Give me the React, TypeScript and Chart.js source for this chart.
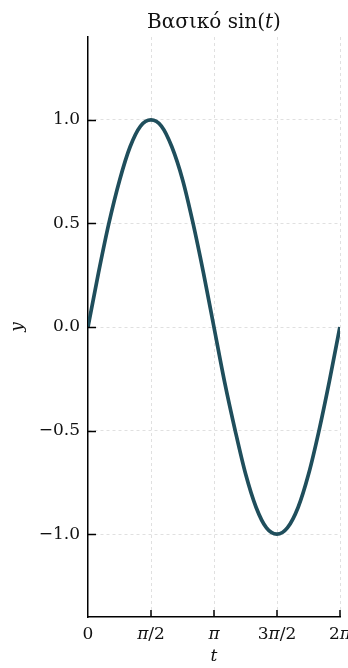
import React, { useEffect, useRef } from 'react';
import { Chart, registerables } from 'chart.js';

Chart.register(...registerables);

// t values (radians)
const tValues = [
  0, 0.26, 0.52, 0.79, 1.05, 1.31, 1.57, 1.83, 2.09, 2.36, 2.62, 2.88, 3.14,
  3.4, 3.67, 3.93, 4.19, 4.45, 4.71, 4.97, 5.24, 5.5, 5.76, 6.02, 6.28,
];
const yValues = [
  0, 0.26, 0.5, 0.71, 0.87, 0.97, 1.0, 0.97, 0.87, 0.71, 0.5, 0.26, 0,
  -0.26, -0.5, -0.71, -0.87, -0.97, -1.0, -0.97, -0.87, -0.71, -0.5, -0.26, 0,
];
const xTickValues = [0, 1.5708, 3.1416, 4.7124, 6.2832];
const xTickLabels = ['0', 'π/2', 'π', '3π/2', '2π'];
const yTickValues = [-1, -0.5, 0, 0.5, 1];
const yTickLabels = ['−1.0', '−0.5', '0.0', '0.5', '1.0'];
const xRange = [0, 6.2832];
const yRange = [-1.4, 1.4];
const titleParts = [
  { text: 'Βασικό ', italic: false },
  { text: 'sin(', italic: false },
  { text: 't', italic: true },
  { text: ')', italic: false },
];
const xTitle = 't';
const yTitle = 'y';

const SERIF = '"DejaVu Serif", serif';

function drawParts(ctx: any, parts: { text: string; italic: boolean }[], size: number, cx: number, y: number) {
  const fontFor = (it: boolean) => `${it ? 'italic ' : ''}${size}px ${SERIF}`;
  let total = 0;
  parts.forEach((p) => {
    ctx.font = fontFor(p.italic);
    total += ctx.measureText(p.text).width;
  });
  let x = cx - total / 2;
  ctx.textAlign = 'left';
  parts.forEach((p) => {
    ctx.font = fontFor(p.italic);
    ctx.fillText(p.text, x, y);
    x += ctx.measureText(p.text).width;
  });
}

function splitPi(label: string) {
  const parts: { text: string; italic: boolean }[] = [];
  label.split(/(π)/).forEach((s) => {
    if (s) parts.push({ text: s, italic: s === 'π' });
  });
  return parts;
}

const decorPlugin = {
  id: 'decor',
  afterDraw(chart: any) {
    const { ctx, chartArea, scales } = chart;
    const xs = scales.x;
    const ys = scales.y;
    ctx.save();
    // inward ticks
    ctx.strokeStyle = '#000';
    ctx.lineWidth = 1.5;
    ctx.beginPath();
    yTickValues.forEach((v) => {
      const py = Math.round(ys.getPixelForValue(v)) + 0.5;
      ctx.moveTo(chartArea.left, py);
      ctx.lineTo(chartArea.left + 8, py);
    });
    xTickValues.forEach((v, i) => {
      if (i === 0) return;
      const px = xs.getPixelForValue(v);
      ctx.moveTo(px, chartArea.bottom);
      ctx.lineTo(px, chartArea.bottom - 7);
    });
    ctx.stroke();

    ctx.fillStyle = '#111';
    ctx.textBaseline = 'alphabetic';

    // x tick labels (π in math italic)
    xTickValues.forEach((v, i) => {
      drawParts(ctx, splitPi(xTickLabels[i]), 17, xs.getPixelForValue(v), 639);
    });

    // title
    drawParts(ctx, titleParts, 20, (chartArea.left + chartArea.right) / 2, 28);

    // axis titles
    ctx.font = `italic 17px ${SERIF}`;
    ctx.textAlign = 'center';
    ctx.textBaseline = 'middle';
    ctx.fillText(xTitle, (chartArea.left + chartArea.right) / 2, 657);
    ctx.translate(18, (chartArea.top + chartArea.bottom) / 2);
    ctx.rotate(-Math.PI / 2);
    ctx.fillText(yTitle, 0, 0);
    ctx.restore();
  },
};

export default function App() {
  const ref = useRef<HTMLCanvasElement | null>(null);
  useEffect(() => {
    document.body.style.margin = '0';
    const canvas = ref.current;
    if (!canvas) return;
    const chart = new Chart(canvas, {
      type: 'line',
      data: {
        datasets: [
          {
            data: tValues.map((t, i) => ({ x: t, y: yValues[i] })),
            borderColor: '#1f4e5c',
            borderWidth: 3.7,
            pointRadius: 0,
            cubicInterpolationMode: 'monotone',
            fill: false,
          },
        ],
      },
      options: {
        animation: false,
        responsive: false,
        devicePixelRatio: 1,
        layout: { padding: { top: 37, right: 8, left: 0, bottom: 0 } },
        plugins: { legend: { display: false }, tooltip: { enabled: false }, title: { display: false } },
        scales: {
          x: {
            type: 'linear',
            min: xRange[0],
            max: xRange[1],
            afterBuildTicks: (s: any) => {
              s.ticks = xTickValues.map((v) => ({ value: v }));
            },
            afterFit: (s: any) => {
              s.height = 51;
              s.paddingLeft = 0;
              s.paddingRight = 0;
            },
            ticks: {
              display: false,
              autoSkip: false,
              maxRotation: 0,
            },
            grid: {
              color: (c: any) => (c.tick && c.tick.value === 0 ? 'rgba(0,0,0,0)' : '#e0e0e0'),
              lineWidth: 1,
              drawTicks: false,
            },
            border: { display: true, color: '#000', width: 1.5, dash: [3, 3] },
          },
          y: {
            type: 'linear',
            min: yRange[0],
            max: yRange[1],
            afterBuildTicks: (s: any) => {
              s.ticks = yTickValues.map((v) => ({ value: v }));
            },
            afterFit: (s: any) => {
              s.width = 88;
              s.paddingTop = 0;
              s.paddingBottom = 0;
            },
            ticks: {
              autoSkip: false,
              padding: 8,
              color: '#111',
              font: { family: SERIF, size: 17 },
              callback: (_v: any, i: number) => yTickLabels[i],
            },
            grid: {
              color: '#e0e0e0',
              lineWidth: 1,
              drawTicks: false,
            },
            border: { display: true, color: '#000', width: 1.5, dash: [3, 3] },
          },
        },
      },
      plugins: [decorPlugin],
    } as any);
    return () => chart.destroy();
  }, []);
  return (
    <div style={{ width: 348, height: 668 }}>
      <canvas ref={ref} width={348} height={668} style={{ width: 348, height: 668, display: 'block' }} />
    </div>
  );
}
